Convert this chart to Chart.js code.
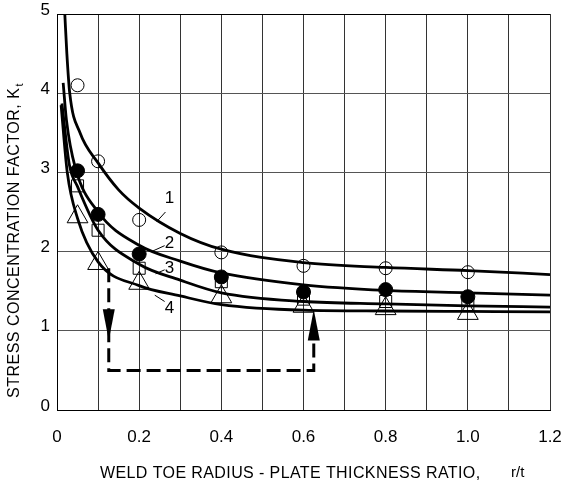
<!DOCTYPE html>
<html>
<head>
<meta charset="utf-8">
<script src="https://cdn.jsdelivr.net/npm/chart.js@4/dist/chart.umd.min.js"></script>
<style>
  html, body { margin: 0; padding: 0; background: #fff; }
</style>
</head>
<body>
<canvas id="kt" width="563" height="484"></canvas>
<script>
// fitted curves 1-4
const curve1X = [0.019, 0.024, 0.031, 0.056, 0.1, 0.15, 0.2, 0.3, 0.4, 0.6, 0.8, 1.0, 1.2];
const curve1Y = [5.0, 4.5, 4.0, 3.5, 3.12, 2.78, 2.55, 2.23, 2.03, 1.86, 1.8, 1.76, 1.71];
const curve2X = [0.015, 0.023, 0.044, 0.1, 0.2, 0.3, 0.4, 0.6, 0.8, 1.0, 1.2];
const curve2Y = [4.13, 3.66, 3.07, 2.5, 2.08, 1.88, 1.73, 1.58, 1.51, 1.48, 1.45];
const curve3X = [0.012, 0.03, 0.05, 0.1, 0.2, 0.3, 0.4, 0.6, 0.8, 1.0, 1.2];
const curve3Y = [3.87, 3.1, 2.82, 2.27, 1.84, 1.64, 1.48, 1.37, 1.34, 1.315, 1.30];
const curve4X = [0.01, 0.025, 0.05, 0.1, 0.2, 0.3, 0.4, 0.6, 0.8, 1.0, 1.2];
const curve4Y = [3.85, 3.0, 2.42, 1.87, 1.57, 1.44, 1.33, 1.26, 1.25, 1.245, 1.24];

// test points
const markerX = [0.05, 0.1, 0.2, 0.4, 0.6, 0.8, 1.0];
const openCircleY = [4.1, 3.14, 2.4, 1.99, 1.82, 1.79, 1.74];
const filledCircleY = [3.02, 2.47, 1.97, 1.68, 1.49, 1.52, 1.43];
const squareY = [2.83, 2.27, 1.79, 1.62, 1.4, 1.37, 1.33];
const triangleY = [2.44, 1.85, 1.6, 1.43, 1.31, 1.28, 1.22];

// dashed path with arrows
const pathX = [0.126, 0.126, 0.625, 0.625];
const pathY = [1.79, 0.5, 0.5, 1.0];
const arrowX = [0.126, 0.625];
const arrowTipY = [0.88, 1.27];
const arrowDir = [1, -1]; // 1 = pointing down

// curve numbers and leader lines
const labelText = ['1', '2', '3', '4'];
const labelX = [0.274, 0.274, 0.274, 0.274];
const labelY = [2.67, 2.10, 1.79, 1.28];
const leaderFromX = [0.264, 0.262, 0.262, 0.262];
const leaderFromY = [2.50, 2.075, 1.77, 1.37];
const leaderToX = [0.243, 0.23, 0.24, 0.238];
const leaderToY = [2.38, 2.0, 1.72, 1.45];

const xTitle = 'WELD TOE RADIUS - PLATE THICKNESS RATIO,';
const xTitleUnit = 'r/t';
const yTitle = 'STRESS CONCENTRATION FACTOR, K';
const yTitleSub = 't';

const FONT = '"Liberation Sans", Arial, sans-serif';

function pts(xs, ys) {
    return xs.map((x, i) => ({ x: x, y: ys[i] }));
}

function curve(xs, ys) {
    return {
        data: pts(xs, ys),
        showLine: true,
        borderColor: '#000',
        borderWidth: 2.8,
        pointRadius: 0,
        cubicInterpolationMode: 'monotone',
        order: 2
    };
}

function marker(ys, style, radius, fill) {
    return {
        data: pts(markerX, ys),
        showLine: false,
        pointStyle: style,
        pointRadius: radius,
        borderColor: '#000',
        borderWidth: 1,
        backgroundColor: fill,
        order: 0
    };
}

const extras = {
    id: 'extras',
    afterDatasetsDraw(chart) {
        const ctx = chart.ctx;
        const xs = chart.scales.x, ys = chart.scales.y;
        ctx.save();
        // arrow heads
        ctx.fillStyle = '#000';
        arrowX.forEach((ax, i) => {
            const px = xs.getPixelForValue(ax);
            const py = ys.getPixelForValue(arrowTipY[i]);
            const d = arrowDir[i];
            ctx.beginPath();
            ctx.moveTo(px, py);
            ctx.lineTo(px - 6, py - d * 31);
            ctx.lineTo(px + 6, py - d * 31);
            ctx.closePath();
            ctx.fill();
        });
        // curve numbers
        ctx.strokeStyle = '#000';
        ctx.lineWidth = 1;
        ctx.font = '17px ' + FONT;
        ctx.textAlign = 'center';
        ctx.textBaseline = 'middle';
        labelText.forEach((t, i) => {
            ctx.beginPath();
            ctx.moveTo(xs.getPixelForValue(leaderFromX[i]), ys.getPixelForValue(leaderFromY[i]));
            ctx.lineTo(xs.getPixelForValue(leaderToX[i]), ys.getPixelForValue(leaderToY[i]));
            ctx.stroke();
            ctx.fillText(t, xs.getPixelForValue(labelX[i]), ys.getPixelForValue(labelY[i]));
        });
        ctx.restore();
    },
    afterDraw(chart) {
        const ctx = chart.ctx;
        const area = chart.chartArea;
        ctx.save();
        ctx.fillStyle = '#000';
        // x title
        ctx.font = '16px ' + FONT;
        ctx.letterSpacing = '0.4px';
        ctx.textAlign = 'left';
        ctx.textBaseline = 'alphabetic';
        ctx.fillText(xTitle, area.left + 43, area.bottom + 68);
        ctx.letterSpacing = '0px';
        ctx.font = '15px ' + FONT;
        ctx.fillText(xTitleUnit, area.left + 454, area.bottom + 67);
        // y title with subscript
        ctx.translate(19, area.bottom - 12);
        ctx.rotate(-Math.PI / 2);
        ctx.font = '16px ' + FONT;
        ctx.letterSpacing = '0.5px';
        ctx.fillText(yTitle, 0, 0);
        const w = ctx.measureText(yTitle).width;
        ctx.font = '11px ' + FONT;
        ctx.fillText(yTitleSub, w + 1, 4);
        ctx.restore();
    }
};

new Chart(document.getElementById('kt'), {
    type: 'scatter',
    data: {
        datasets: [
            curve(curve1X, curve1Y),
            curve(curve2X, curve2Y),
            curve(curve3X, curve3Y),
            curve(curve4X, curve4Y),
            {
                data: pts(pathX, pathY),
                showLine: true,
                borderColor: '#000',
                borderWidth: 3,
                borderDash: [14, 6],
                pointRadius: 0,
                order: 1
            },
            marker(openCircleY, 'circle', 6.5, 'rgba(255,255,255,0)'),
            marker(filledCircleY, 'circle', 7, '#000'),
            marker(squareY, 'rect', 8.5, 'rgba(255,255,255,0)'),
            marker(triangleY, 'triangle', 12, 'rgba(255,255,255,0)')
        ]
    },
    options: {
        responsive: false,
        devicePixelRatio: 1,
        animation: false,
        layout: { padding: { left: 0, right: 11, top: 14, bottom: 0 } },
        plugins: {
            legend: { display: false },
            tooltip: { enabled: false }
        },
        scales: {
            x: {
                type: 'linear',
                min: 0,
                max: 1.2,
                afterFit: s => {
                    s.height = 74;
                    s.paddingLeft = 0;
                    s.paddingRight = 0;
                },
                border: { display: true, color: '#000', width: 1 },
                grid: { color: '#333', lineWidth: 1, drawTicks: false },
                ticks: {
                    stepSize: 0.1,
                    padding: 17,
                    maxRotation: 0,
                    autoSkip: false,
                    color: '#000',
                    font: { family: FONT, size: 17 },
                    callback: v => {
                        const k = Math.round(v * 10);
                        if (k % 2) return '';
                        return k === 0 ? '0' : (k / 10).toFixed(1);
                    }
                }
            },
            y: {
                min: 0,
                max: 5,
                afterFit: s => {
                    s.width = 57;
                    s.paddingTop = 0;
                    s.paddingBottom = 0;
                },
                border: { display: true, color: '#000', width: 1 },
                grid: {
                    color: c => (c.tick && c.tick.value === 5 ? '#000' : '#555'),
                    lineWidth: 1,
                    drawTicks: false
                },
                ticks: {
                    stepSize: 1,
                    padding: 7,
                    labelOffset: -4,
                    color: '#000',
                    font: { family: FONT, size: 17 }
                }
            }
        }
    },
    plugins: [extras]
});
</script>
</body>
</html>
